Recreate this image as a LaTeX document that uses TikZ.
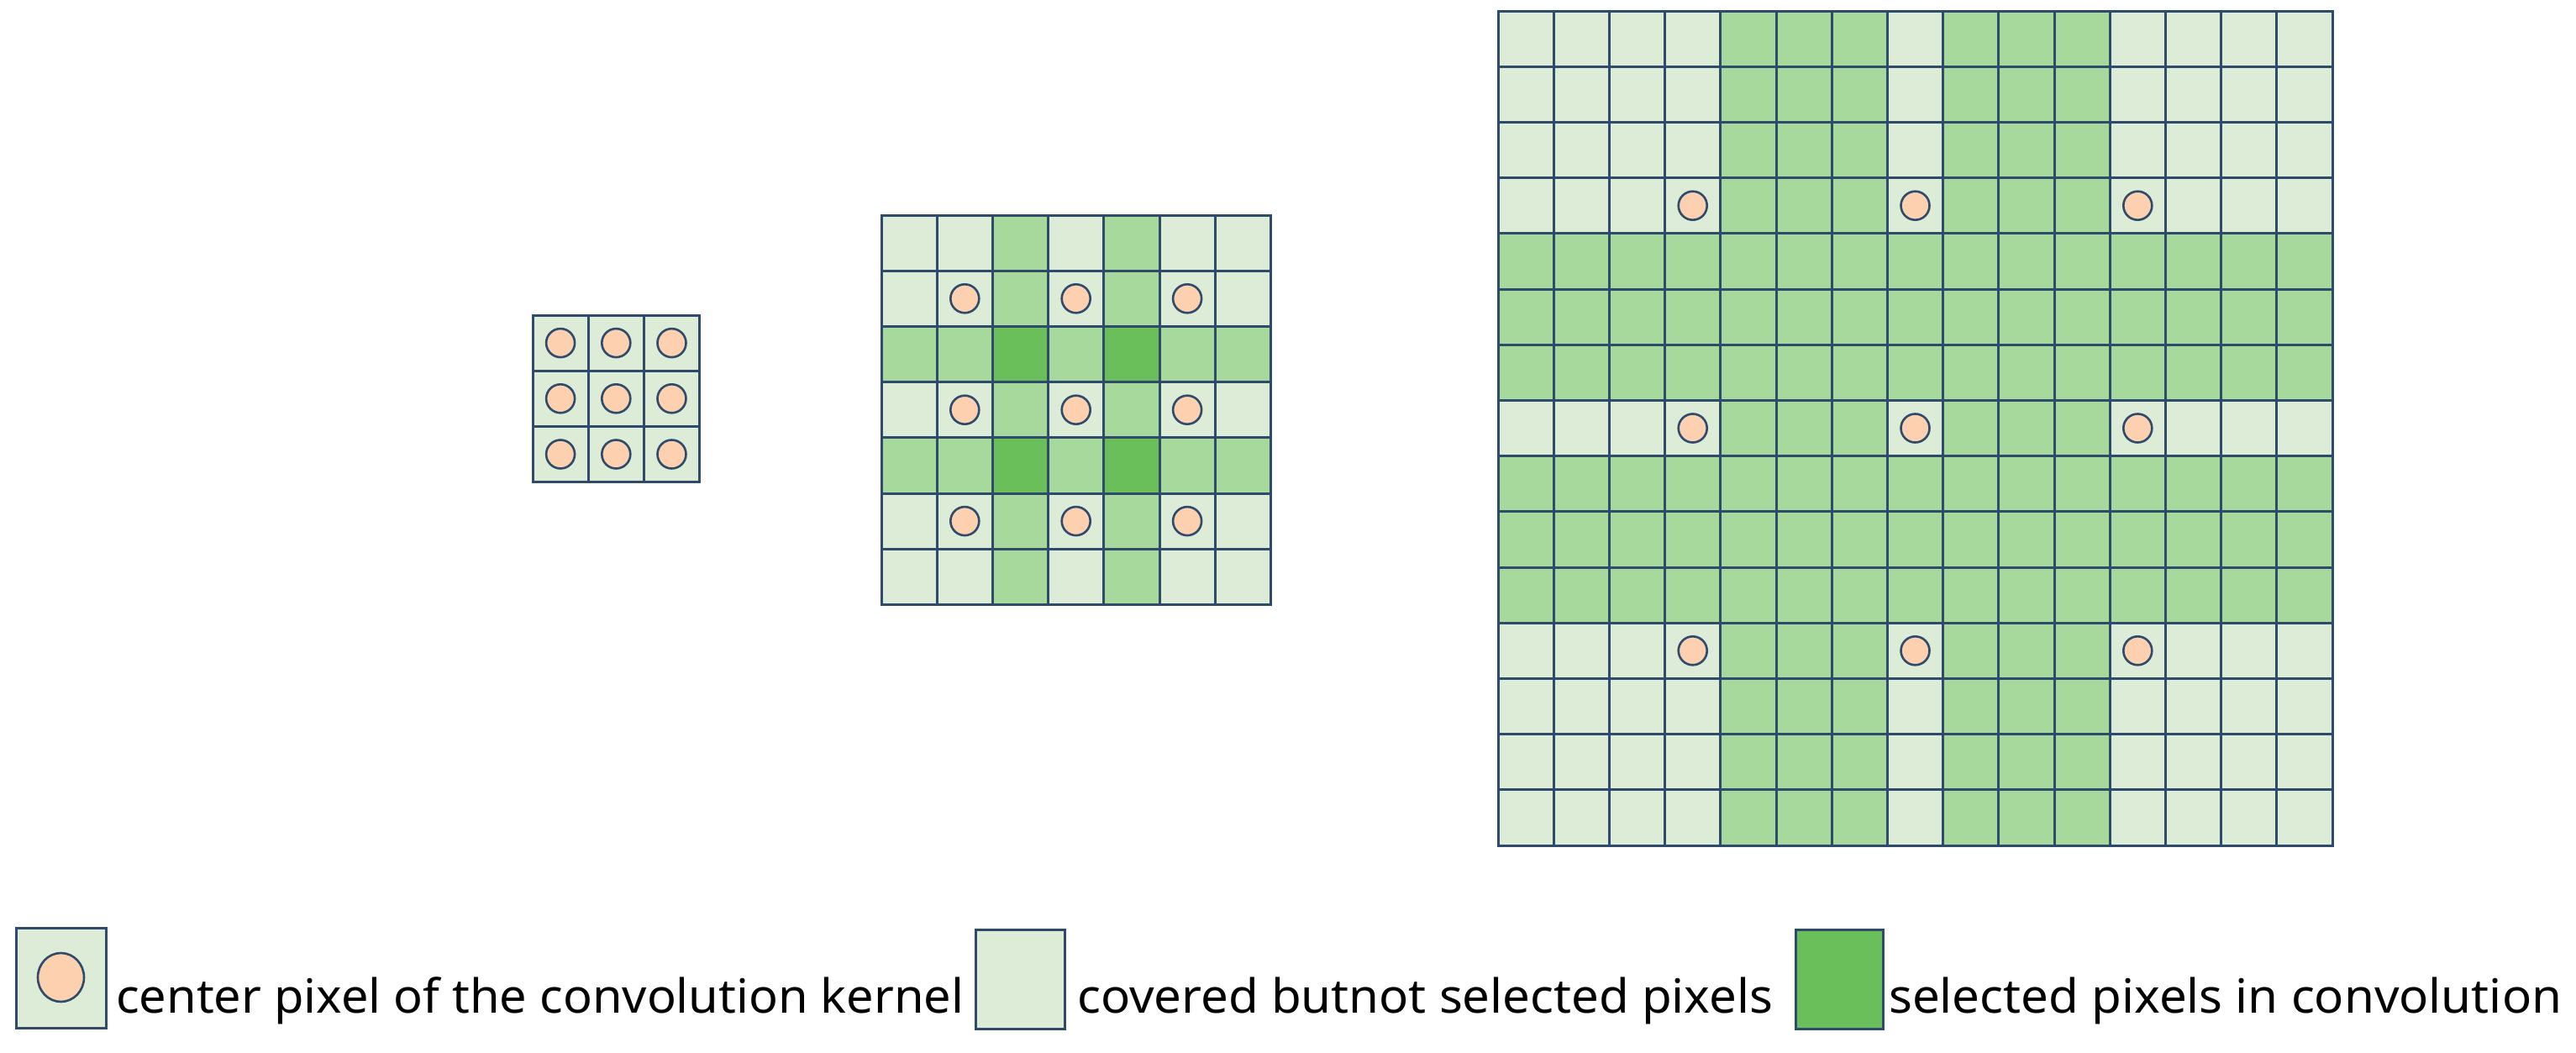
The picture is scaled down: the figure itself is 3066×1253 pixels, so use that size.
\documentclass[tikz,border=0pt]{standalone}
\usepackage{fontspec}
\setmainfont{Noto Sans}
\usepackage{graphicx}
\definecolor{lineC}{HTML}{2F4B6C}
\definecolor{lightG}{HTML}{DCECD7}
\definecolor{midG}{HTML}{A7D89C}
\definecolor{darkG}{HTML}{6BBF5B}
\definecolor{peach}{HTML}{FDD0B0}
\newlength\fitw
\newcommand\fitx[2]{\settowidth\fitw{#2}\scalebox{\fpeval{#1/\fitw}}[1]{#2}}
\def\cs{66.2}
\newcommand\gridlines[3]{%
  \foreach \i in {0,...,#3}{%
    \draw[gridline] ({#1+\i*\cs},{#2}) -- ({#1+\i*\cs},{#2+#3*\cs});
    \draw[gridline] ({#1},{#2+\i*\cs}) -- ({#1+#3*\cs},{#2+\i*\cs});
  }%
  \draw[gridline] (#1,#2) rectangle ({#1+#3*\cs},{#2+#3*\cs});
}
\newcommand\cellfill[5]{% X0 Y0 col row colour
  \fill[#5] ({#1+#3*\cs},{#2+#4*\cs}) rectangle ++(\cs,\cs);
}
\tikzset{
  gridline/.style={draw=lineC, line width=3pt, line cap=rect},
  kc/.style={fill=peach, draw=lineC, line width=2.6pt},
  legbox/.style={draw=lineC, line width=3pt},
  legtext/.style={anchor=base west, inner sep=0pt, font=\fontsize{56}{60}\selectfont, text=black},
}
\begin{document}
\begin{tikzpicture}[x=1pt,y=-1pt]
\useasboundingbox (0,0) rectangle (3066,1253);

% ---------- small 3x3 grid ----------
\def\Xa{634}\def\Ya{375}
\fill[lightG] (\Xa,\Ya) rectangle ++({3*\cs},{3*\cs});
\gridlines{\Xa}{\Ya}{3}
\foreach \r in {0,1,2}{\foreach \c in {0,1,2}{
  \draw[kc] ({\Xa+(\c+0.5)*\cs},{\Ya+(\r+0.5)*\cs}) circle[radius=17pt];
}}

% ---------- medium 7x7 grid ----------
\def\Xb{1049}\def\Yb{256}
\fill[lightG] (\Xb,\Yb) rectangle ++({7*\cs},{7*\cs});
\foreach \k in {2,4}{
  \fill[midG] (\Xb,{\Yb+\k*\cs}) rectangle ++({7*\cs},\cs);
  \fill[midG] ({\Xb+\k*\cs},\Yb) rectangle ++(\cs,{7*\cs});
}
\foreach \r in {2,4}{\foreach \c in {2,4}{\cellfill{\Xb}{\Yb}{\c}{\r}{darkG}}}
\gridlines{\Xb}{\Yb}{7}
\foreach \r in {1,3,5}{\foreach \c in {1,3,5}{
  \draw[kc] ({\Xb+(\c+0.5)*\cs},{\Yb+(\r+0.5)*\cs}) circle[radius=17pt];
}}

% ---------- large 15x15 grid ----------
\def\Xc{1783}\def\Yc{13}
\fill[lightG] (\Xc,\Yc) rectangle ++({15*\cs},{15*\cs});
\foreach \k in {4,8}{
  \fill[midG] (\Xc,{\Yc+\k*\cs}) rectangle ++({15*\cs},{3*\cs});
  \fill[midG] ({\Xc+\k*\cs},\Yc) rectangle ++({3*\cs},{15*\cs});
}
\gridlines{\Xc}{\Yc}{15}
\foreach \r in {3,7,11}{\foreach \c in {3,7,11}{
  \draw[kc] ({\Xc+(\c+0.5)*\cs},{\Yc+(\r+0.5)*\cs}) circle[radius=17pt];
}}

% ---------- legend ----------
\draw[legbox, fill=lightG] (19,1104) rectangle (126,1223);
\draw[kc] (72.5,1163) ellipse[x radius=27.5pt, y radius=29pt];
\node[legtext] (t1) at (138,1205) {\fitx{1009}{center pixel of the convolution kernel}};

\draw[legbox, fill=lightG] (1161,1106) rectangle (1267,1224);
\node[legtext] (t2) at (1282,1205) {\fitx{828}{covered butnot selected pixels}};

\draw[legbox, fill=darkG] (2137,1106) rectangle (2241,1224);
\node[legtext] (t3) at (2248,1205) {\fitx{801}{selected pixels in convolution}};
\end{tikzpicture}
\end{document}
